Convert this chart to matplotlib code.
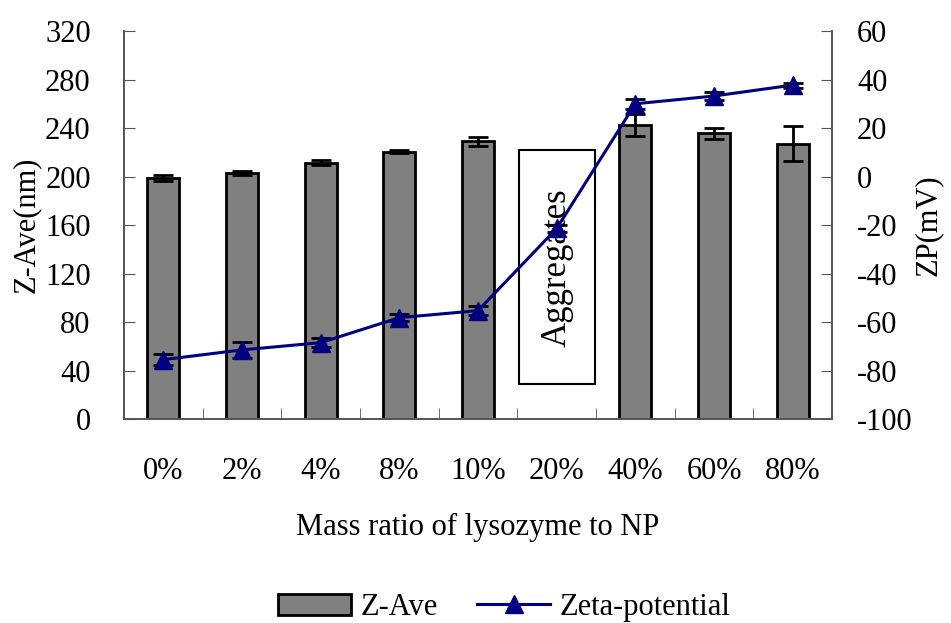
import numpy as np
import matplotlib
matplotlib.use("Agg")
import matplotlib.pyplot as plt
from matplotlib.ticker import FixedLocator

# Dados
categorias = ["0%", "2%", "4%", "8%", "10%", "20%", "40%", "60%", "80%"]
z_ave = [198.5, 203, 211.5, 220.5, 229, np.nan, 242.5, 235.5, 227]
z_ave_err = [2.5, 1.5, 2, 1, 3.7, np.nan, 9, 4.7, 14.5]
zeta = [-75.5, -71.5, -68.5, -58.2, -55.3, -21.4, 30, 33.2, 37.7]
zeta_err = [2.3, 3.3, 1.9, 1.4, 1.9, 1.5, 2, 1.5, 1]

plt.rcParams['font.family'] = ['Liberation Serif', 'DejaVu Serif']
plt.rcParams['axes.unicode_minus'] = False
cor_eixo = "#555555"

fig = plt.figure(figsize=(9.51, 6.23), dpi=100)
ax = fig.add_axes([0.1304, 0.3274, 0.7445, 0.6228])
ax2 = ax.twinx()

x = np.arange(len(categorias))

# Barras Z-Ave
ax.bar(x, z_ave, width=0.41, color="#808080", edgecolor="black", linewidth=2,
       label="Z-Ave", zorder=2)
ax.errorbar(x, z_ave, yerr=z_ave_err, fmt="none", ecolor="black", elinewidth=2,
            capsize=7, capthick=2, zorder=3)

# Caixa "Aggregates"
ax.add_patch(plt.Rectangle((4.52, 29), 0.97, 193, facecolor="white",
                           edgecolor="black", linewidth=1.5, zorder=2))
ax.text(5.0, 125, "Aggregates", rotation=90, ha="center", va="center",
        fontsize=25, zorder=2)

# Potencial zeta
ax2.errorbar(x, zeta, yerr=zeta_err, fmt="none", ecolor="black", elinewidth=2,
             capsize=7, capthick=2, zorder=3)
ax2.plot(x, zeta, color="#000080", linewidth=2.2, marker="^", markersize=13,
         markerfacecolor="#000080", markeredgecolor="#000080",
         label="Zeta-potential", zorder=4)

ax.set_xlim(-0.5, 8.5)
ax.set_ylim(0, 320)
ax2.set_ylim(-100, 60)
ax.set_yticks(np.arange(0, 321, 40))
ax2.set_yticks(np.arange(-100, 61, 20))
ax.set_xticks(x)
ax.set_xticklabels(categorias)
ax.xaxis.set_minor_locator(FixedLocator(np.arange(-0.5, 8.6, 1)))

for a in (ax, ax2):
    a.spines["top"].set_visible(False)
    for s in ("left", "right", "bottom"):
        a.spines[s].set_color(cor_eixo)
        a.spines[s].set_linewidth(1.2)

ax.tick_params(axis="x", which="major", length=0, pad=27, labelsize=22)
ax.tick_params(axis="x", which="minor", direction="in", length=8, color=cor_eixo)
ax.tick_params(axis="y", direction="in", length=8, color=cor_eixo, labelsize=22, pad=24)
ax2.tick_params(axis="y", direction="in", length=8, color=cor_eixo, labelsize=22, pad=18)

ax.set_ylabel("Z-Ave(nm)", fontsize=22, labelpad=3)
ax2.set_ylabel("ZP(mV)", fontsize=22, labelpad=1)
ax.set_xlabel("Mass ratio of lysozyme to NP", fontsize=22, labelpad=20)

h1, l1 = ax.get_legend_handles_labels()
h2, l2 = ax2.get_legend_handles_labels()
fig.legend(h1 + h2, l1 + l2, loc="center", bbox_to_anchor=(0.53, 0.025),
           ncol=2, frameon=False, fontsize=22, handlelength=2.4,
           handletextpad=0.3, columnspacing=1.3)

fig.savefig("out.png", dpi=100)
